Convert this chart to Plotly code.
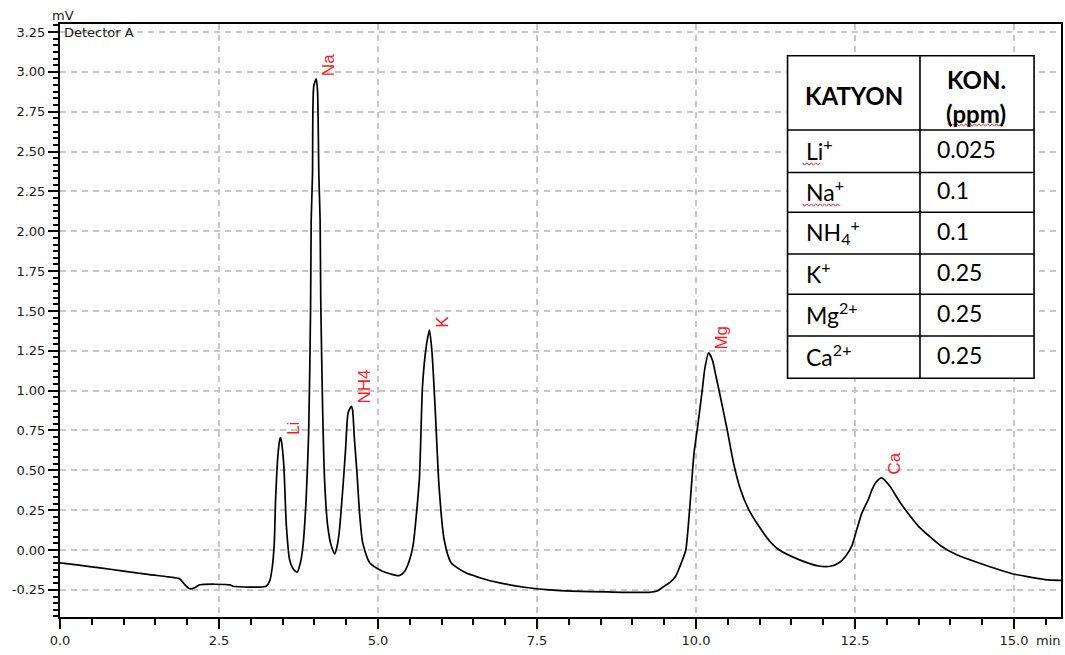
import plotly.graph_objects as go

# Detector trace: retention time (min) and signal (mV)
time_min = [
    0.00, 0.30, 0.63, 1.00, 1.41, 1.70, 1.88, 1.96, 2.04, 2.12, 2.20, 2.67, 2.72, 3.24,
    3.30, 3.34, 3.37, 3.39, 3.43, 3.46, 3.47, 3.49, 3.52, 3.56, 3.61, 3.67, 3.73,
    3.78, 3.82, 3.87, 3.91, 3.94, 3.95, 3.97, 3.99, 4.03, 4.05, 4.07, 4.09, 4.10,
    4.13, 4.16, 4.21, 4.27, 4.32, 4.36, 4.39, 4.45, 4.49, 4.53, 4.58, 4.60, 4.63,
    4.67, 4.71, 4.76, 4.87, 5.07, 5.20, 5.34, 5.42, 5.49, 5.55, 5.65, 5.70, 5.76,
    5.81, 5.85, 5.90, 5.96, 6.04, 6.15, 6.38, 6.59, 6.80, 7.33, 7.70, 8.05, 8.60,
    9.26, 9.40, 9.47, 9.60, 9.68, 9.78, 9.84, 9.90, 9.94, 9.97, 10.02, 10.10, 10.14,
    10.20, 10.26, 10.31, 10.36, 10.49, 10.59, 10.70, 10.83, 10.99, 11.15, 11.30, 11.62,
    11.93, 12.13, 12.25, 12.35, 12.45, 12.53, 12.61, 12.71, 12.77, 12.84, 12.92,
    13.05, 13.18, 13.29, 13.50, 13.86, 14.10, 14.44, 14.96, 15.49, 15.74,
]
signal_mv = [
    -0.080, -0.095, -0.112, -0.132, -0.154, -0.168, -0.180, -0.216, -0.243, -0.236, -0.218, -0.218, -0.227, -0.227,
    -0.190, -0.100, 0.050, 0.317, 0.610, 0.700, 0.704, 0.660, 0.526, 0.149, -0.060, -0.120, -0.139,
    -0.080, 0.024, 0.317, 0.735, 1.509, 2.070, 2.350, 2.910, 2.956, 2.878, 2.356, 2.070, 1.570,
    0.880, 0.440, 0.149, 0.020, -0.024, 0.030, 0.110, 0.400, 0.630, 0.860, 0.902, 0.880, 0.693,
    0.484, 0.233, 0.045, -0.080, -0.133, -0.150, -0.160, -0.133, -0.070, 0.024, 0.442, 1.028, 1.279,
    1.379, 1.237, 0.881, 0.400, 0.066, -0.080, -0.143, -0.172, -0.196, -0.235, -0.250, -0.258, -0.263,
    -0.265, -0.255, -0.235, -0.200, -0.164, -0.070, 0.000, 0.254, 0.463, 0.610, 0.756, 1.007, 1.140,
    1.237, 1.190, 1.100, 1.007, 0.756, 0.547, 0.380, 0.254, 0.149, 0.060, 0.003, -0.060,
    -0.100, -0.100, -0.080, -0.040, 0.024, 0.130, 0.233, 0.317, 0.380, 0.430, 0.453,
    0.400, 0.317, 0.254, 0.149, 0.024, -0.030, -0.080, -0.147, -0.185, -0.190,
]

# Identified peaks
peak_names = ["Li", "Na", "NH4", "K", "Mg", "Ca"]
peak_time = [3.47, 4.03, 4.58, 5.81, 10.20, 12.92]
peak_signal = [0.704, 2.956, 0.902, 1.379, 1.237, 0.453]

# Standard concentrations
table_header = ["KATYON", "KON.", "(ppm)"]
cations = ["Li<sup>+</sup>", "Na<sup>+</sup>", "NH<sub>4</sub><sup>+</sup>",
           "K<sup>+</sup>", "Mg<sup>2+</sup>", "Ca<sup>2+</sup>"]
conc_ppm = ["0.025", "0.1", "0.1", "0.25", "0.25", "0.25"]

x_ticks = [0.0, 2.5, 5.0, 7.5, 10.0, 12.5, 15.0]
y_ticks = [-0.25, 0.00, 0.25, 0.50, 0.75, 1.00, 1.25, 1.50, 1.75, 2.00,
           2.25, 2.50, 2.75, 3.00, 3.25]

W, H = 1065, 655
ML, MR, MT, MB = 60, 2, 24, 38
PW, PH = W - ML - MR, H - MT - MB


def px(x):
    return (x - ML) / PW


def py(y):
    return (H - MB - y) / PH


FONT = "DejaVu Sans"
TXT = "#1a1a1a"

fig = go.Figure()
fig.add_trace(go.Scatter(
    x=time_min, y=signal_mv, mode="lines",
    line=dict(color="black", width=1.7, shape="spline", smoothing=0.6),
    hoverinfo="skip", showlegend=False,
))

annotations = []
for name, t, v in zip(peak_names, peak_time, peak_signal):
    annotations.append(dict(
        x=t, y=v, xref="x", yref="y", text=name, showarrow=False,
        textangle=-90, xanchor="center", yanchor="bottom", xshift=13, yshift=1,
        font=dict(family="Liberation Sans", size=17, color="#ff1a1a"),
    ))

annotations += [
    dict(x=px(50), y=py(15), xref="paper", yref="paper", text="mV", showarrow=False,
         xanchor="left", yanchor="middle", font=dict(family=FONT, size=13, color=TXT)),
    dict(x=px(62), y=py(33), xref="paper", yref="paper", text="Detector A", showarrow=False,
         xanchor="left", yanchor="middle", font=dict(family=FONT, size=13, color=TXT)),
    dict(x=px(1050), y=py(640), xref="paper", yref="paper", text="min", showarrow=False,
         xanchor="center", yanchor="middle", font=dict(family=FONT, size=13, color=TXT)),
]

# Concentration table
row_y = [55.7, 130, 172.5, 212.3, 254, 294.3, 336, 378.3]
col_x = [789, 921.7, 1036]
shapes = [dict(type="rect", xref="paper", yref="paper",
               x0=px(col_x[0]), x1=px(col_x[2]), y0=py(row_y[-1]), y1=py(row_y[0]),
               line=dict(color="black", width=1.6), fillcolor="white", layer="above")]
for yy in row_y[1:-1]:
    shapes.append(dict(type="line", xref="paper", yref="paper",
                       x0=px(col_x[0]), x1=px(col_x[2]), y0=py(yy), y1=py(yy),
                       line=dict(color="black", width=1.6), layer="above"))
shapes.append(dict(type="line", xref="paper", yref="paper",
                   x0=px(col_x[1]), x1=px(col_x[1]), y0=py(row_y[-1]), y1=py(row_y[0]),
                   line=dict(color="black", width=1.6), layer="above"))

TFONT = "Lato"
HSIZE = 24
annotations.append(dict(x=px(856), y=py(95), xref="paper", yref="paper",
                        text=f"<b>{table_header[0]}</b>",
                        showarrow=False, xanchor="center", yanchor="middle",
                        font=dict(family=TFONT, size=HSIZE, color="black")))
annotations.append(dict(x=px(978), y=py(79), xref="paper", yref="paper",
                        text=f"<b>{table_header[1]}</b>", showarrow=False,
                        xanchor="center", yanchor="middle",
                        font=dict(family=TFONT, size=HSIZE, color="black")))
annotations.append(dict(x=px(978), y=py(113), xref="paper", yref="paper",
                        text=f"<b>{table_header[2]}</b>", showarrow=False,
                        xanchor="center", yanchor="middle",
                        font=dict(family=TFONT, size=HSIZE, color="black")))
for i, (c, k) in enumerate(zip(cations, conc_ppm)):
    yc = (row_y[i + 1] + row_y[i + 2]) / 2 - 2
    annotations.append(dict(x=px(805), y=py(yc), xref="paper", yref="paper", text=c,
                            showarrow=False, xanchor="left", yanchor="middle",
                            font=dict(family=TFONT, size=23, color="black")))
    annotations.append(dict(x=px(937), y=py(yc), xref="paper", yref="paper", text=k,
                            showarrow=False, xanchor="left", yanchor="middle",
                            font=dict(family=TFONT, size=23, color="black")))


# spell-check squiggles under some words of the table
def squiggle(x0, x1, y):
    pts = []
    x = x0
    up = True
    while x <= x1:
        pts.append((px(x), py(y - 1.2 if up else y + 1.2)))
        up = not up
        x += 2.2
    d = "M " + " L ".join(f"{a:.5f},{b:.5f}" for a, b in pts)
    return dict(type="path", xref="paper", yref="paper", path=d,
                line=dict(color="#e0302a", width=1), layer="above")


shapes += [squiggle(950, 1007, 125), squiggle(804, 823, 164), squiggle(804, 842, 205)]

fig.update_layout(
    width=W, height=H,
    margin=dict(l=ML, r=MR, t=MT, b=MB, pad=0),
    paper_bgcolor="white", plot_bgcolor="white",
    showlegend=False,
    annotations=annotations,
    shapes=shapes,
    xaxis=dict(
        range=[0, 15.74], tickmode="array", tickvals=x_ticks,
        ticktext=[f"{v:.1f}" for v in x_ticks],
        ticks="outside", ticklen=10, tickwidth=1.5, tickcolor="black",
        showline=True, linecolor="black", linewidth=2, mirror=True,
        showgrid=True, gridcolor="#c8c8c8", gridwidth=1.5, griddash="6px,5px",
        zeroline=False,
        tickfont=dict(family=FONT, size=13, color=TXT),
        minor=dict(dtick=0.5, tick0=0, ticks="outside", ticklen=6, tickwidth=1.5,
                   tickcolor="black", showgrid=False),
    ),
    yaxis=dict(
        range=[-0.42, 3.30], tickmode="array", tickvals=y_ticks,
        ticktext=[f"{v:.2f}" for v in y_ticks],
        ticks="outside", ticklen=10, tickwidth=1.5, tickcolor="black",
        showline=True, linecolor="black", linewidth=2, mirror=True,
        showgrid=True, gridcolor="#c8c8c8", gridwidth=1.5, griddash="6px,5px",
        zeroline=False,
        tickfont=dict(family=FONT, size=13, color=TXT),
        minor=dict(dtick=0.25 / 6, tick0=0, ticks="outside", ticklen=5, tickwidth=1.5,
                   tickcolor="black", showgrid=False),
    ),
)

fig.write_html("out.html")
